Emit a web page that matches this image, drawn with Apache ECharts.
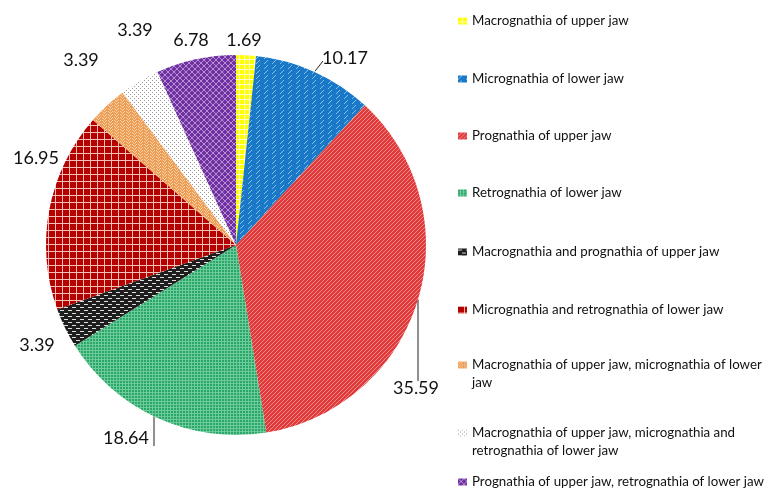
<!DOCTYPE html>
<html><head><meta charset="utf-8">
<script src="https://cdn.jsdelivr.net/npm/echarts@6/dist/echarts.min.js"></script>
<style>html,body{margin:0;padding:0;background:#fff}#c{width:766px;height:492px}</style>
</head><body><div id="c"></div>
<script>
const categories = [
  "Macrognathia of upper jaw",
  "Micrognathia of lower jaw",
  "Prognathia of upper jaw",
  "Retrognathia of lower jaw",
  "Macrognathia and prognathia of upper jaw",
  "Micrognathia and retrognathia of lower jaw",
  "Macrognathia of upper jaw, micrognathia of lower jaw",
  "Macrognathia of upper jaw, micrognathia and retrognathia of lower jaw",
  "Prognathia of upper jaw, retrognathia of lower jaw"
];
const legendText = [
  "Macrognathia of upper jaw",
  "Micrognathia of lower jaw",
  "Prognathia of upper jaw",
  "Retrognathia of lower jaw",
  "Macrognathia and prognathia of upper jaw",
  "Micrognathia and retrognathia of lower jaw",
  "Macrognathia of upper jaw, micrognathia of lower\njaw",
  "Macrognathia of upper jaw, micrognathia and\nretrognathia of lower jaw",
  "Prognathia of upper jaw, retrognathia of lower jaw"
];
const values = [1.69, 10.17, 35.59, 18.64, 3.39, 16.95, 3.39, 3.39, 6.78];
const valueLabels = ["1.69", "10.17", "35.59", "18.64", "3.39", "16.95", "3.39", "3.39", "6.78"];

// ---- layout (not data) ----
const CX = 236, CY = 245, R = 190;
const labelCenters = [[244, 40], [345, 58], [416, 388], [126, 438], [37, 345], [36, 158], [81, 60], [135, 30], [191, 40]];
const leaderX = { 1: 315, 2: 418, 3: 154 };
const legendTops = [7, 65, 122, 179, 238, 296, 333, 401, 468];

function tile(w, h, bg, draw) {
  const c = document.createElement('canvas');
  c.width = w; c.height = h;
  const g = c.getContext('2d');
  g.fillStyle = bg; g.fillRect(0, 0, w, h);
  draw(g);
  return { image: c, repeat: 'repeat' };
}
const patterns = [
  tile(5, 5, '#FFFF00', g => { g.fillStyle = '#FFFFC8'; g.fillRect(4, 0, 1, 5); g.fillRect(0, 4, 5, 1); }),
  tile(8, 5, '#1B78C6', g => { g.fillStyle = '#7DC0EE'; g.fillRect(0, 3, 1, 1); g.fillRect(1, 2, 1, 1); g.fillRect(2, 1, 1, 1); g.fillRect(3, 0, 1, 1); }),
  tile(4, 4, '#E03A3A', g => { g.fillStyle = '#F08A8A'; g.fillRect(0, 3, 1, 1); g.fillRect(1, 2, 1, 1); g.fillRect(2, 1, 1, 1); g.fillRect(3, 0, 1, 1); }),
  tile(3, 3, '#2BA66A', g => { g.fillStyle = '#6CCB99'; g.fillRect(2, 0, 1, 3); g.fillRect(0, 2, 3, 1); }),
  tile(8, 6, '#1E1E1E', g => { g.fillStyle = '#DDDDDD'; g.fillRect(0, 1, 4, 1); g.fillRect(4, 4, 4, 1); }),
  tile(7, 7, '#B50000', g => { g.fillStyle = '#F2C0B8'; g.fillRect(6, 0, 1, 7); g.fillRect(0, 6, 7, 1); }),
  tile(6, 6, '#EE9D55', g => { g.fillStyle = '#F8D2AA'; g.fillRect(0, 0, 1, 1); g.fillRect(1, 1, 1, 1); g.fillRect(2, 2, 1, 1); g.fillRect(3, 1, 1, 1); g.fillRect(4, 0, 1, 1); g.fillRect(0, 3, 1, 1); g.fillRect(1, 4, 1, 1); g.fillRect(2, 5, 1, 1); g.fillRect(3, 4, 1, 1); g.fillRect(4, 3, 1, 1); }),
  tile(4, 4, '#FFFFFF', g => { g.fillStyle = '#9A9A9A'; g.fillRect(0, 0, 1, 1); g.fillRect(2, 2, 1, 1); }),
  tile(6, 6, '#7030A0', g => { g.fillStyle = '#B58FD6'; for (let i = 0; i < 6; i++) { g.fillRect(i, i, 1, 1); g.fillRect(5 - i, i, 1, 1); } })
];

const seriesData = categories.map((n, i) => ({
  name: n,
  value: values[i],
  itemStyle: { color: patterns[i] },
  label: { formatter: valueLabels[i] },
  labelLine: { show: leaderX[i] !== undefined }
}));

function circleY(x, lower) {
  const d = Math.sqrt(Math.max(0, R * R - (x - CX) * (x - CX)));
  return lower ? CY + d : CY - d;
}

const legends = categories.map((n, i) => {
  const twoLine = legendText[i].indexOf('\n') >= 0;
  // a leading empty line keeps the icon level with the first text line
  const txt = twoLine ? '\n' + legendText[i] : legendText[i];
  return {
    orient: 'vertical',
    left: 453,
    top: legendTops[i],
    data: [n],
    icon: 'rect',
    itemWidth: 9,
    itemHeight: 7,
    selectedMode: false,
    formatter: () => txt,
    textStyle: { fontFamily: 'Lato', fontSize: 13.3, color: '#111', lineHeight: 18 }
  };
});

const chart = echarts.init(document.getElementById('c'), null, { renderer: 'canvas' });
chart.setOption({
  animation: false,
  legend: legends,
  series: [{
    type: 'pie',
    center: [CX, CY],
    radius: R,
    startAngle: 90,
    clockwise: true,
    data: seriesData,
    itemStyle: { borderWidth: 0 },
    label: { show: true, position: 'outside', overflow: 'none', fontFamily: 'Lato', fontSize: 18, color: '#111' },
    labelLine: { length: 8, length2: 4, lineStyle: { color: '#222', width: 1 } },
    labelLayout: function (p) {
      const i = p.dataIndex;
      const c = labelCenters[i];
      const out = { x: c[0], y: c[1], align: 'center', verticalAlign: 'middle' };
      const lx = leaderX[i];
      if (lx !== undefined) {
        const w = p.labelRect.width, h = p.labelRect.height;
        if (i === 1) {
          out.labelLinePoints = [[lx, circleY(lx, false) - 1], [c[0] - w / 2 + 1, c[1] + 3], [c[0] - w / 2 + 1, c[1] + 3]];
        } else if (i === 2) {
          out.labelLinePoints = [[lx, circleY(lx, true)], [lx, c[1] - h / 2 + 2], [lx, c[1] - h / 2 + 2]];
        } else {
          out.labelLinePoints = [[lx, circleY(lx, true)], [lx, c[1] + h / 2 - 1], [lx, c[1] + h / 2 - 1]];
        }
      }
      return out;
    },
    emphasis: { disabled: true }
  }]
});
</script>
</body></html>
